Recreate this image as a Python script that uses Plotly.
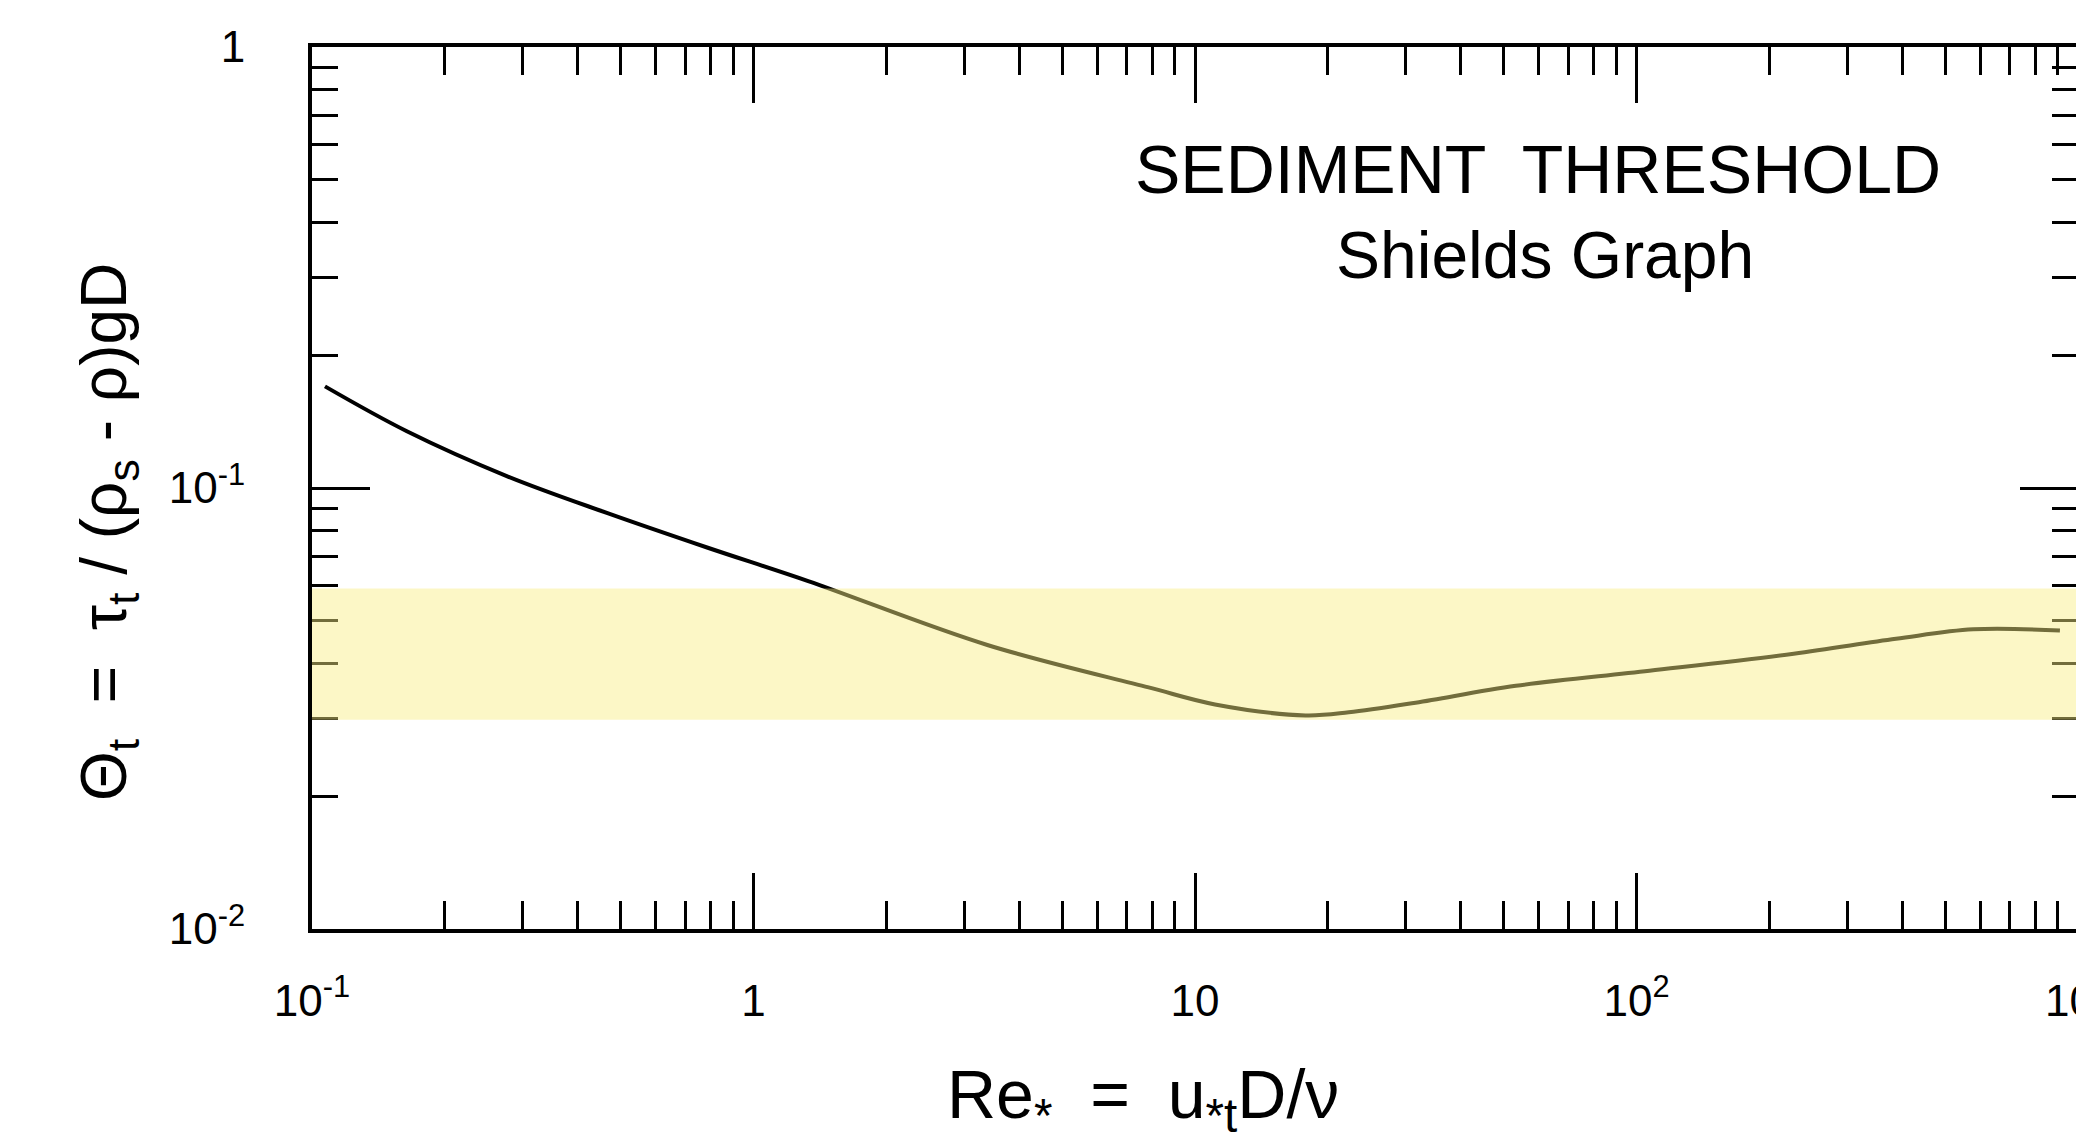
import plotly.graph_objects as go

# Shields curve
re_star = [0.107, 0.164, 0.277, 0.467, 0.788, 1.33, 3.40, 7.85, 11.1, 17.8, 22.3, 31.6, 53.3, 107, 227, 387, 579, 910]
theta_t = [0.170, 0.1345, 0.1063, 0.0877, 0.0732, 0.0615, 0.044, 0.0353, 0.0323, 0.0305, 0.0310, 0.0326, 0.0356, 0.0385, 0.0421, 0.0455, 0.0478, 0.0475]

# shaded band
band_low = 0.0298
band_high = 0.0592

x_tickvals = [0.1, 1, 10, 100, 1000]
x_ticktext = ["10<sup>-1</sup>", "1", "10", "10<sup>2</sup>", "10<sup>3</sup>"]
y_tickvals = [0.01, 0.1, 1]
y_ticktext = ["10<sup>-2</sup>", "10<sup>-1</sup>", "1"]

FONT = "Liberation Sans, Arial, sans-serif"

fig = go.Figure()
fig.add_trace(go.Scatter(
    x=re_star, y=theta_t, mode="lines",
    line=dict(color="black", width=4, shape="spline", smoothing=1.0),
    showlegend=False, hoverinfo="skip",
))

fig.add_shape(
    type="rect", xref="paper", x0=0, x1=1, yref="y", y0=band_low, y1=band_high,
    fillcolor="rgba(248,238,130,0.46)", line=dict(width=0), layer="above",
)

axis_common = dict(
    type="log", showgrid=False, zeroline=False, automargin=False,
    showline=True, linecolor="black", linewidth=4, mirror="allticks",
    ticks="inside", tickcolor="black", tickwidth=3,
    tickfont=dict(family=FONT, size=44, color="black"),
    ticklabeloverflow="allow",
)

fig.update_xaxes(
    **axis_common, range=[-1, 3], tickvals=x_tickvals, ticktext=x_ticktext,
    ticklen=56, ticklabelstandoff=30,
    minor=dict(ticks="inside", ticklen=28, tickwidth=3, tickcolor="black", dtick="D1", showgrid=False),
)
fig.update_yaxes(
    **axis_common, range=[-2, 0], tickvals=y_tickvals, ticktext=y_ticktext,
    ticklen=58, ticklabelstandoff=54,
    minor=dict(ticks="inside", ticklen=26, tickwidth=3, tickcolor="black", dtick="D1", showgrid=False),
)

fig.add_annotation(
    text="SEDIMENT  THRESHOLD", xref="paper", yref="paper",
    x=(1538 - 312) / 1766, y=(929 - 169) / 882, showarrow=False,
    font=dict(family=FONT, size=68, color="black"), xanchor="center", yanchor="middle",
)
fig.add_annotation(
    text="Shields Graph", xref="paper", yref="paper",
    x=(1545 - 312) / 1766, y=(929 - 255) / 882, showarrow=False,
    font=dict(family=FONT, size=66, color="black"), xanchor="center", yanchor="middle",
)
fig.add_annotation(
    text="Θ<sub>t</sub>  =  τ<sub>t</sub> / (ρ<sub>s</sub> - ρ)gD",
    xref="paper", yref="paper", x=0, xshift=-204, y=(929 - 532) / 882,
    textangle=-90, showarrow=False,
    font=dict(family=FONT, size=64, color="black"), xanchor="center", yanchor="middle",
)
fig.add_annotation(
    text="Re<sub>*</sub>  =  u<sub>*t</sub>D/ν",
    xref="paper", yref="paper", x=(1143 - 312) / 1766, y=0, yshift=-170,
    showarrow=False,
    font=dict(family=FONT, size=68, color="black"), xanchor="center", yanchor="middle",
)

# the page adds an 8px body margin, so the figure is 8px smaller and margins shifted
fig.update_layout(
    width=2076, height=1126,
    margin=dict(l=304, r=6, t=39, b=205, autoexpand=False),
    paper_bgcolor="white", plot_bgcolor="white",
)

fig.write_html("out.html")
